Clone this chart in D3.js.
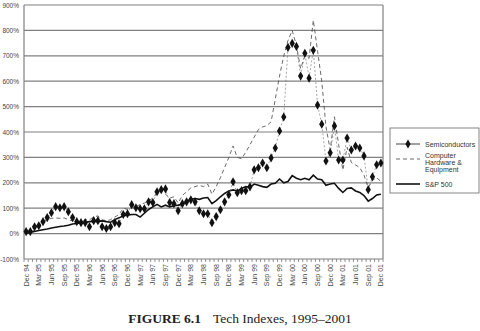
<!DOCTYPE html>
<html>
<head>
<meta charset="utf-8">
<script src="https://cdn.jsdelivr.net/npm/d3@7"></script>
<style>
  body { margin: 0; background: #fff; }
  svg { display: block; }
</style>
</head>
<body>
<div id="chart"></div>
<script>
// Monthly values, Dec 94 .. Dec 01 (85 months), cumulative % change
const semis = [8, 8, 27, 31, 47, 63, 82, 106, 102, 106, 86, 63, 47, 43, 43, 27, 51, 51, 27, 20,
  27, 43, 39, 75, 78, 114, 102, 98, 98, 125, 122, 165, 173, 176, 122, 118, 90, 118, 125, 133,
  125, 90, 78, 78, 43, 67, 94, 125, 153, 204, 161, 169, 169, 184, 251, 259, 278, 259, 298, 337,
  404, 459, 733, 749, 737, 620, 710, 612, 722, 506, 431, 286, 318, 424, 290, 290, 376, 329, 345, 337,
  306, 173, 224, 271, 278];

const hardware = [0, 5, 15, 30, 45, 55, 60, 62, 60, 62, 55, 50, 50, 45, 55, 55, 65, 70, 55, 50,
  55, 65, 75, 100, 95, 110, 105, 115, 120, 130, 140, 160, 170, 155, 140, 145, 120, 150, 165, 180,
  185, 190, 185, 195, 155, 185, 220, 260, 300, 345, 300, 295, 320, 350, 380, 410, 420, 425, 440, 530,
  620, 700, 760, 800, 740, 650, 700, 690, 840, 720, 600, 420, 330, 460, 350, 250, 340, 280, 270, 260,
  230, 180, 210, 220, 205];

const sp500 = [0, 5, 8, 12, 15, 18, 22, 25, 28, 30, 33, 38, 40, 43, 45, 47, 48, 48, 50, 47,
  45, 55, 62, 70, 72, 75, 75, 65, 80, 95, 105, 115, 105, 112, 105, 110, 112, 115, 125, 135,
  138, 135, 140, 142, 118, 130, 145, 158, 168, 172, 168, 178, 185, 182, 195, 190, 185, 182, 195, 198,
  215, 200, 205, 228, 218, 212, 218, 212, 230, 215, 212, 190, 195, 198, 178, 162, 178, 180, 168, 162,
  150, 128, 138, 152, 155];

// quarterly tick labels, one every third month
const quarterLabels = ["Dec 94", "Mar 95", "Jun 95", "Sep 95", "Dec 95", "Mar 96", "Jun 96", "Sep 96",
  "Dec 96", "Mar 97", "Jun 97", "Sep 97", "Dec 97", "Mar 98", "Jun 98", "Sep 98", "Dec 98", "Mar 99",
  "Jun 99", "Sep 99", "Dec 99", "Mar 00", "Jun 00", "Sep 00", "Dec 00", "Mar 01", "Jun 01", "Sep 01", "Dec 01"];

const yTicks = [-100, 0, 100, 200, 300, 400, 500, 600, 700, 800, 900];

const seriesNames = ["Semiconductors", "Computer Hardware & Equipment", "S&P 500"];

const width = 480, height = 331;
const plot = { left: 24, right: 383, top: 5, bottom: 259 };

const svg = d3.select("#chart").append("svg")
  .attr("width", width)
  .attr("height", height);

const months = d3.range(semis.length);

const x = d3.scaleBand()
  .domain(months)
  .range([plot.left, plot.right]);

const y = d3.scaleLinear()
  .domain([-100, 900])
  .range([plot.bottom, plot.top]);

const cx = i => x(i) + x.bandwidth() / 2;

// gridlines
svg.append("g")
  .selectAll("line")
  .data(yTicks)
  .enter()
  .append("line")
  .attr("x1", plot.left)
  .attr("x2", plot.right)
  .attr("y1", d => y(d))
  .attr("y2", d => y(d))
  .attr("stroke", "#808080")
  .attr("stroke-width", 1.2);

// plot frame (left and right sides)
svg.append("line")
  .attr("x1", plot.left).attr("x2", plot.left)
  .attr("y1", plot.top).attr("y2", plot.bottom)
  .attr("stroke", "#808080").attr("stroke-width", 1.2);
svg.append("line")
  .attr("x1", plot.right).attr("x2", plot.right)
  .attr("y1", plot.top).attr("y2", plot.bottom)
  .attr("stroke", "#808080").attr("stroke-width", 1.2);

// y labels
svg.append("g")
  .selectAll("text")
  .data(yTicks)
  .enter()
  .append("text")
  .attr("x", plot.left - 5)
  .attr("y", d => y(d) + 2.5)
  .attr("text-anchor", "end")
  .attr("font-family", "Liberation Sans, Arial, sans-serif")
  .attr("font-size", 6.5)
  .attr("fill", "#444")
  .text(d => d + "%");

// monthly ticks below the axis
svg.append("g")
  .selectAll("line")
  .data(d3.range(semis.length + 1))
  .enter()
  .append("line")
  .attr("x1", d => plot.left + d * x.step())
  .attr("x2", d => plot.left + d * x.step())
  .attr("y1", plot.bottom)
  .attr("y2", plot.bottom + 3)
  .attr("stroke", "#777")
  .attr("stroke-width", 0.8);

// quarter labels, rotated
svg.append("g")
  .selectAll("text")
  .data(quarterLabels)
  .enter()
  .append("text")
  .attr("transform", (d, i) => `translate(${cx(i * 3) + 2.5},${plot.bottom + 5}) rotate(-90)`)
  .attr("text-anchor", "end")
  .attr("font-family", "Liberation Sans, Arial, sans-serif")
  .attr("font-size", 7)
  .attr("fill", "#444")
  .text(d => d);

const line = d3.line()
  .x((d, i) => cx(i))
  .y(d => y(d));

// computer hardware, dashed
svg.append("path")
  .datum(hardware)
  .attr("d", line)
  .attr("fill", "none")
  .attr("stroke", "#444")
  .attr("stroke-width", 0.8)
  .attr("stroke-dasharray", "4,3");

// S&P 500, heavy solid
svg.append("path")
  .datum(sp500)
  .attr("d", line)
  .attr("fill", "none")
  .attr("stroke", "#111")
  .attr("stroke-width", 1.6);

// semiconductors, thin line + diamonds
svg.append("path")
  .datum(semis)
  .attr("d", line)
  .attr("fill", "none")
  .attr("stroke", "#666")
  .attr("stroke-width", 0.6)
  .attr("stroke-dasharray", "2,2");

const diamond = d3.symbol().type(d3.symbolDiamond).size(24);
svg.append("g")
  .selectAll("path")
  .data(semis)
  .enter()
  .append("path")
  .attr("d", diamond)
  .attr("transform", (d, i) => `translate(${cx(i)},${y(d)})`)
  .attr("fill", "#111");

// legend
const lg = svg.append("g").attr("transform", "translate(390,128)");
lg.append("rect")
  .attr("x", 0).attr("y", 0)
  .attr("width", 89).attr("height", 65)
  .attr("fill", "#fff")
  .attr("stroke", "#666")
  .attr("stroke-width", 0.8);

const lgText = (yy, lines) => {
  const t = lg.append("text")
    .attr("x", 35)
    .attr("y", yy)
    .attr("font-family", "Liberation Sans, Arial, sans-serif")
    .attr("font-size", 7)
    .attr("fill", "#333");
  lines.forEach((s, k) => {
    t.append("tspan").attr("x", 35).attr("dy", k === 0 ? 0 : 7).text(s);
  });
};

lg.append("line").attr("x1", 6).attr("x2", 30).attr("y1", 16).attr("y2", 16)
  .attr("stroke", "#111").attr("stroke-width", 0.8);
lg.append("path").attr("d", diamond).attr("transform", "translate(18,16)").attr("fill", "#111");
lgText(18.5, [seriesNames[0]]);

lg.append("line").attr("x1", 6).attr("x2", 30).attr("y1", 31).attr("y2", 31)
  .attr("stroke", "#444").attr("stroke-width", 0.8).attr("stroke-dasharray", "4,3");
lgText(30, ["Computer", "Hardware &", "Equipment"]);

lg.append("line").attr("x1", 6).attr("x2", 30).attr("y1", 56).attr("y2", 56)
  .attr("stroke", "#111").attr("stroke-width", 1.6);
lgText(58.5, [seriesNames[2]]);

// caption
const cap = svg.append("text")
  .attr("x", 240)
  .attr("y", 323)
  .attr("text-anchor", "middle")
  .attr("font-family", "Liberation Serif, Times New Roman, serif")
  .attr("font-size", 13.5)
  .attr("fill", "#222");
cap.append("tspan").attr("font-weight", "bold").text("FIGURE 6.1");
cap.append("tspan").attr("dx", 12).text("Tech Indexes, 1995\u20132001");
</script>
</body>
</html>
